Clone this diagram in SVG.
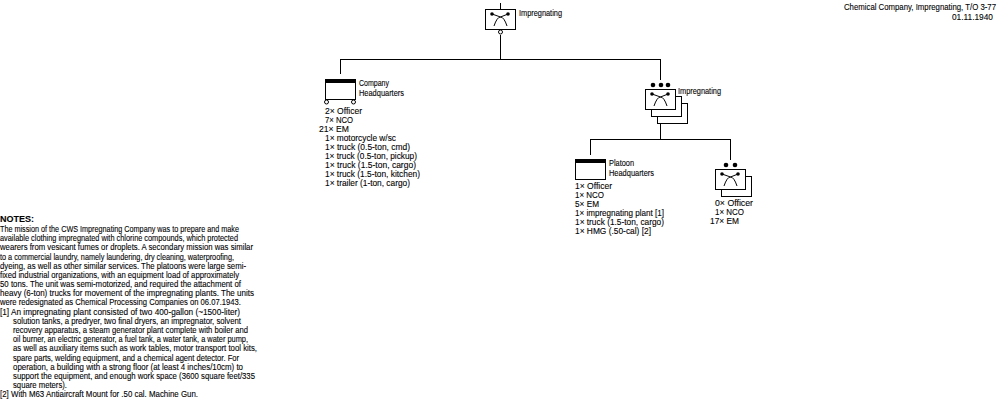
<svg xmlns="http://www.w3.org/2000/svg" width="1000" height="400" viewBox="0 0 1000 400">
<style>
text{font-family:"Liberation Sans",Arial,sans-serif;font-size:9.8px;fill:#000;stroke:#000;stroke-width:.12px}
.c{stroke:#000;stroke-width:1;fill:none;shape-rendering:crispEdges}
.b{stroke:#000;stroke-width:1;fill:#fff;shape-rendering:crispEdges}
.o{stroke:#000;stroke-width:1;fill:#fff}
.h{fill:#000;shape-rendering:crispEdges}
.n{font-weight:bold}
.s{stroke:#000;stroke-width:1;fill:none}
.t{opacity:.99}
</style>
<defs>
<g id="sym">
<rect class="b" x="0.5" y="0.5" width="30" height="20"/>
<path class="s" d="M7 5L15.500 8L23 5M9 17Q12 8 15.500 8Q19 8 22 17"/>
<circle cx="7" cy="5" r="1.800"/><circle cx="23" cy="5" r="1.800"/>
</g>
<g id="hq">
<rect class="b" x="0.500" y="0.500" width="30" height="20"/>
<rect class="h" x="0" y="0" width="31" height="4"/>
</g>
</defs>
<g id="connectors">
<path class="c" d="M500.500 3V9M500.500 35V59M340.500 59H660.500M340.500 59V74M660.500 59V80M660.500 123V139M590.500 139H730.500M590.500 139V155M730.500 139V160"/>
</g>
<g id="node-company" class="t">
<use href="#sym" x="485" y="9"/>
<circle class="o" cx="500.500" cy="32" r="2"/>
<text x="519" y="16" textLength="43" lengthAdjust="spacingAndGlyphs">Impregnating</text>
</g>
<g id="node-hq" class="t">
<use href="#hq" x="325" y="79"/>
<circle class="o" cx="326.500" cy="102" r="2"/><circle class="o" cx="353.500" cy="102" r="2"/>
<text x="359" y="86" textLength="30" lengthAdjust="spacingAndGlyphs">Company</text>
<text x="359" y="96" textLength="45" lengthAdjust="spacingAndGlyphs">Headquarters</text>
<text x="325" y="114" textLength="37" lengthAdjust="spacingAndGlyphs">2× Officer</text>
<text x="325" y="123" textLength="28" lengthAdjust="spacingAndGlyphs">7× NCO</text>
<text x="319" y="132" textLength="30" lengthAdjust="spacingAndGlyphs">21× EM</text>
<text x="325" y="141" textLength="71" lengthAdjust="spacingAndGlyphs">1× motorcycle w/sc</text>
<text x="325" y="150" textLength="85" lengthAdjust="spacingAndGlyphs">1× truck (0.5-ton, cmd)</text>
<text x="325" y="159" textLength="92" lengthAdjust="spacingAndGlyphs">1× truck (0.5-ton, pickup)</text>
<text x="325" y="168" textLength="91" lengthAdjust="spacingAndGlyphs">1× truck (1.5-ton, cargo)</text>
<text x="325" y="177" textLength="95" lengthAdjust="spacingAndGlyphs">1× truck (1.5-ton, kitchen)</text>
<text x="325" y="186" textLength="85" lengthAdjust="spacingAndGlyphs">1× trailer (1-ton, cargo)</text>
</g>
<g id="node-impregnating" class="t">
<rect class="b" x="657.500" y="103.500" width="30" height="20"/>
<rect class="b" x="651.500" y="96.500" width="30" height="20"/>
<use href="#sym" x="645" y="89"/>
<circle cx="653" cy="85" r="2.300"/><circle cx="661" cy="85" r="2.300"/><circle cx="668" cy="85" r="2.300"/>
<text x="678" y="94" textLength="43" lengthAdjust="spacingAndGlyphs">Impregnating</text>
</g>
<g id="node-platoon-hq" class="t">
<use href="#hq" x="575" y="159"/>
<text x="609" y="166" textLength="25" lengthAdjust="spacingAndGlyphs">Platoon</text>
<text x="609" y="176" textLength="45" lengthAdjust="spacingAndGlyphs">Headquarters</text>
<text x="575" y="189" textLength="37" lengthAdjust="spacingAndGlyphs">1× Officer</text>
<text x="575" y="198" textLength="29" lengthAdjust="spacingAndGlyphs">1× NCO</text>
<text x="575" y="207" textLength="24" lengthAdjust="spacingAndGlyphs">5× EM</text>
<text x="575" y="216" textLength="89" lengthAdjust="spacingAndGlyphs">1× impregnating plant [1]</text>
<text x="575" y="225" textLength="89" lengthAdjust="spacingAndGlyphs">1× truck (1.5-ton, cargo)</text>
<text x="575" y="234" textLength="76" lengthAdjust="spacingAndGlyphs">1× HMG (.50-cal) [2]</text>
</g>
<g id="node-platoon" class="t">
<rect class="b" x="721.500" y="176.500" width="30" height="20"/>
<use href="#sym" x="715" y="169"/>
<circle cx="726" cy="165" r="2.300"/><circle cx="735" cy="165" r="2.300"/>
<text x="715" y="206" textLength="38" lengthAdjust="spacingAndGlyphs">0× Officer</text>
<text x="715" y="215" textLength="29" lengthAdjust="spacingAndGlyphs">1× NCO</text>
<text x="710" y="224" textLength="29" lengthAdjust="spacingAndGlyphs">17× EM</text>
</g>
<g id="title" class="t">
<text transform="translate(844 10) scale(.8 1)" textLength="190" lengthAdjust="spacingAndGlyphs">Chemical Company, Impregnating, T/O 3-77</text>
<text x="952" y="20" textLength="41" lengthAdjust="spacingAndGlyphs">01.11.1940</text>
</g>
<g id="notes" class="t">
<text class="n" x="0" y="222" textLength="34" lengthAdjust="spacingAndGlyphs">NOTES:</text>
<text x="0" y="232" textLength="239" lengthAdjust="spacingAndGlyphs">The mission of the CWS Impregnating Company was to prepare and make</text>
<text x="0" y="241" textLength="238" lengthAdjust="spacingAndGlyphs">available clothing impregnated with chlorine compounds, which protected</text>
<text x="0" y="250" textLength="253" lengthAdjust="spacingAndGlyphs">wearers from vesicant fumes or droplets. A secondary mission was similar</text>
<text x="0" y="260" textLength="234" lengthAdjust="spacingAndGlyphs">to a commercial laundry, namely laundering, dry cleaning, waterproofing,</text>
<text x="0" y="269" textLength="246" lengthAdjust="spacingAndGlyphs">dyeing, as well as other similar services. The platoons were large semi-</text>
<text x="0" y="278" textLength="239" lengthAdjust="spacingAndGlyphs">fixed industrial organizations, with an equipment load of approximately</text>
<text x="0" y="287" textLength="241" lengthAdjust="spacingAndGlyphs">50 tons. The unit was semi-motorized, and required the attachment of</text>
<text x="0" y="296" textLength="254" lengthAdjust="spacingAndGlyphs">heavy (6-ton) trucks for movement of the impregnating plants. The units</text>
<text x="0" y="305" textLength="241" lengthAdjust="spacingAndGlyphs">were redesignated as Chemical Processing Companies on 06.07.1943.</text>
<text x="0" y="315" textLength="240" lengthAdjust="spacingAndGlyphs">[1] An impregnating plant consisted of two 400-gallon (~1500-liter)</text>
<text x="13" y="324" textLength="228" lengthAdjust="spacingAndGlyphs">solution tanks, a predryer, two final dryers, an impregnator, solvent</text>
<text x="13" y="333" textLength="235" lengthAdjust="spacingAndGlyphs">recovery apparatus, a steam generator plant complete with boiler and</text>
<text x="13" y="342" textLength="235" lengthAdjust="spacingAndGlyphs">oil burner, an electric generator, a fuel tank, a water tank, a water pump,</text>
<text x="13" y="351" textLength="244" lengthAdjust="spacingAndGlyphs">as well as auxiliary items such as work tables, motor transport tool kits,</text>
<text x="13" y="361" textLength="226" lengthAdjust="spacingAndGlyphs">spare parts, welding equipment, and a chemical agent detector. For</text>
<text x="13" y="370" textLength="230" lengthAdjust="spacingAndGlyphs">operation, a building with a strong floor (at least 4 inches/10cm) to</text>
<text x="13" y="379" textLength="242" lengthAdjust="spacingAndGlyphs">support the equipment, and enough work space (3600 square feet/335</text>
<text x="13" y="388" textLength="54" lengthAdjust="spacingAndGlyphs">square meters).</text>
<text x="0" y="397" textLength="198" lengthAdjust="spacingAndGlyphs">[2] With M63 Antiaircraft Mount for .50 cal. Machine Gun.</text>
</g>
</svg>
